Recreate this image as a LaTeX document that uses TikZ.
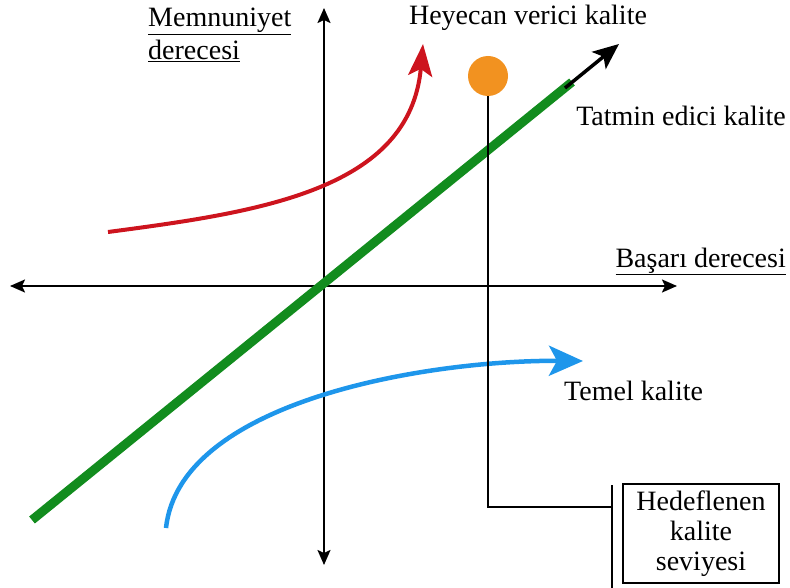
\documentclass[tikz,border=0pt]{standalone}
\usepackage{fontspec}
\setmainfont{Liberation Serif}
\usetikzlibrary{arrows.meta}
\definecolor{gline}{RGB}{18,140,30}
\definecolor{rline}{RGB}{205,20,30}
\definecolor{bline}{RGB}{30,150,235}
\definecolor{dot}{RGB}{242,146,32}
\tikzset{
  axis/.style={line width=2pt,{Stealth[length=15pt,width=13pt,inset=3pt]}-{Stealth[length=15pt,width=13pt,inset=3pt]}},
  greenline/.style={line width=9pt,gline},
  redcurve/.style={line width=4pt,rline,-{Stealth[length=32pt,width=24pt,inset=7pt]}},
  bluecurve/.style={line width=4.5pt,bline,-{Stealth[length=34pt,width=30pt,inset=8pt]}},
  lbl/.style={inner sep=0pt,font=\fontsize{28}{33}\selectfont},
  conn/.style={line width=2pt},
}
\begin{document}
\begin{tikzpicture}[x=1pt,y=-1pt]
\useasboundingbox (0,0) rectangle (790,588);
% axes
\coordinate (xl) at (10,286);
\coordinate (xr) at (677,286);
\coordinate (yt) at (324,8);
\coordinate (yb) at (324,565);
\draw[axis] (xl) -- (xr);
\draw[axis] (yb) -- (yt);
% green line
\coordinate (g0) at (32,520);
\coordinate (g1) at (572,82);
\coordinate (g2) at (565,88);
\coordinate (g3) at (619,44);
\draw[greenline] (g0) -- (g1);
\draw[line width=3.5pt,-{Stealth[length=26pt,width=22pt,inset=6pt]}] (g2) -- (g3);
% red curve
\coordinate (r0) at (108,232);
\coordinate (r1) at (423,44);
\draw[redcurve] (r0) .. controls (260,212) and (410,190) .. (r1);
% blue curve
\coordinate (b0) at (166,528);
\coordinate (b1) at (583,361);
\draw[bluecurve] (b0) .. controls (180,400) and (430,360) .. (b1);
% target dot and leader
\node[circle,fill=dot,minimum size=40pt,inner sep=0pt] (goal) at (488,76) {};
\coordinate (bend) at (488,507);
\coordinate (bjoin) at (612,507);
\draw[conn] (goal.south) -- (bend) -- (bjoin);
\coordinate (bt) at (612,485);
\coordinate (bb) at (612,588);
\draw[line width=2.4pt] (bt) -- (bb);
\node[draw,line width=2.4pt,minimum width=156pt,minimum height=99pt,inner sep=0pt,align=center,font=\fontsize{28}{30}\selectfont] (target) at (701,533.5) {Hedeflenen\\kalite\\seviyesi};
% labels
\node[lbl,anchor=north west,align=left] (ylab) at (148,8) {\underline{Memnuniyet}\\\underline{derecesi}};
\node[lbl,anchor=base] (heyecan) at (528,25) {Heyecan verici kalite};
\node[lbl,anchor=base east] (tatmin) at (786,126) {Tatmin edici kalite};
\node[lbl,anchor=base east] (xlab) at (786,267) {\underline{Başarı derecesi}};
\node[lbl,anchor=base west] (temel) at (564,400) {Temel kalite};
\end{tikzpicture}
\end{document}
